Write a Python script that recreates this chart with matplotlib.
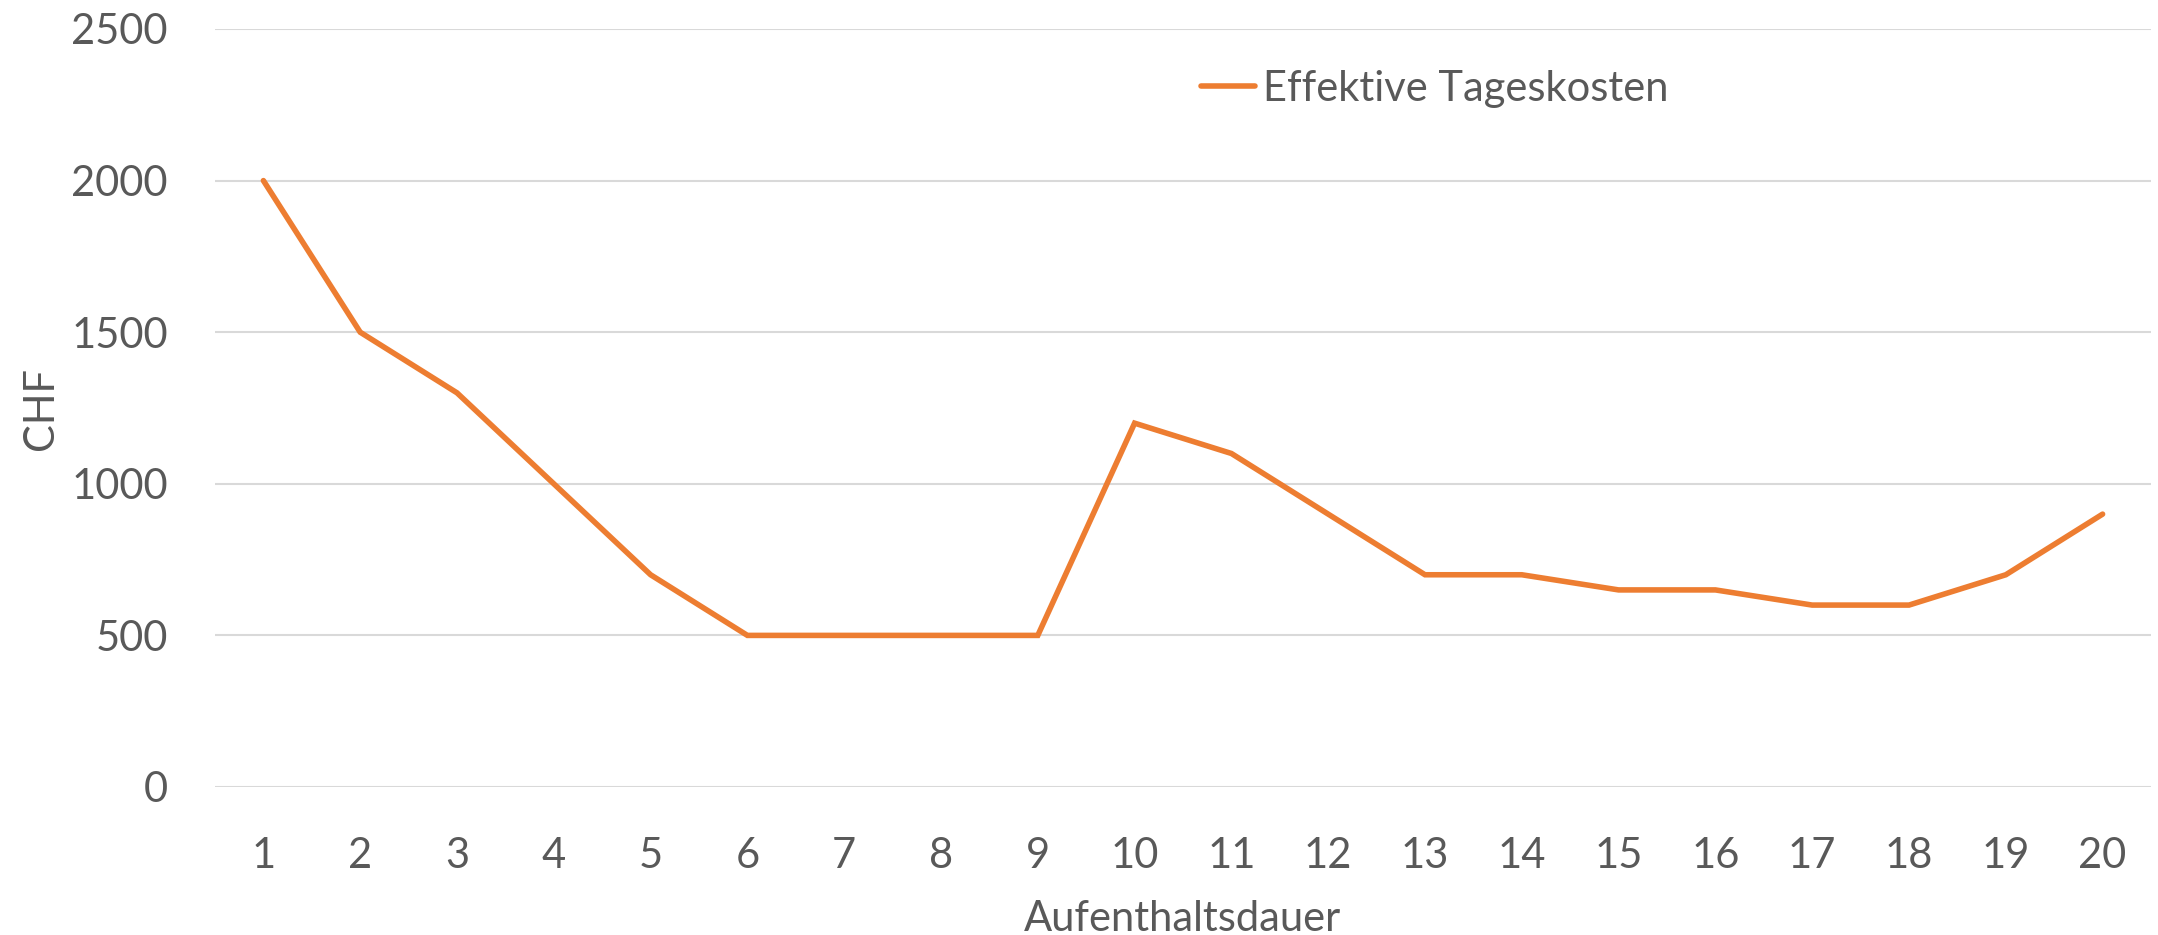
import matplotlib
matplotlib.use("Agg")
import matplotlib.pyplot as plt

days = list(range(1, 21))
costs = [2000, 1500, 1300, 1000, 700, 500, 500, 500, 500, 1200,
         1100, 900, 700, 700, 650, 650, 600, 600, 700, 900]
y_ticks = [0, 500, 1000, 1500, 2000, 2500]
series_name = "Effektive Tageskosten"

plt.rcParams['font.family'] = ['Lato', 'DejaVu Sans']
text_color = '#595959'

fig = plt.figure(figsize=(21.58, 9.35), dpi=100)
ax = fig.add_axes([215/2158, 1-787/935, (2151-215)/2158, (787-29)/935])

ax.plot(days, costs, color='#ED7D31', linewidth=4.0, solid_capstyle='round',
        solid_joinstyle='miter', label=series_name, zorder=3)

ax.set_xlim(0.5, 20.5)
ax.set_ylim(0, 2500)
ax.set_yticks(y_ticks)
ax.set_xticks(days)
ax.set_xticklabels([str(d) for d in days])
ax.grid(axis='y', color='#D9D9D9', linewidth=1.5)
ax.set_axisbelow(True)
for s in ax.spines.values():
    s.set_visible(False)
ax.tick_params(axis='both', length=0, labelsize=30, colors=text_color)
ax.tick_params(axis='y', pad=34)
ax.tick_params(axis='x', pad=36)

ax.set_ylabel("CHF", fontsize=30, color=text_color)
ax.yaxis.set_label_coords((60 - 215) / 1936, 0.5)
ax.set_xlabel("Aufenthaltsdauer", fontsize=30, color=text_color, labelpad=18)

leg = ax.legend(loc='center left', bbox_to_anchor=(1180/2158, 1-89/935),
                bbox_transform=fig.transFigure, frameon=False, fontsize=30,
                handlelength=1.3, handletextpad=0.2, borderpad=0)
for t in leg.get_texts():
    t.set_color(text_color)

fig.savefig("out.png", dpi=100)
